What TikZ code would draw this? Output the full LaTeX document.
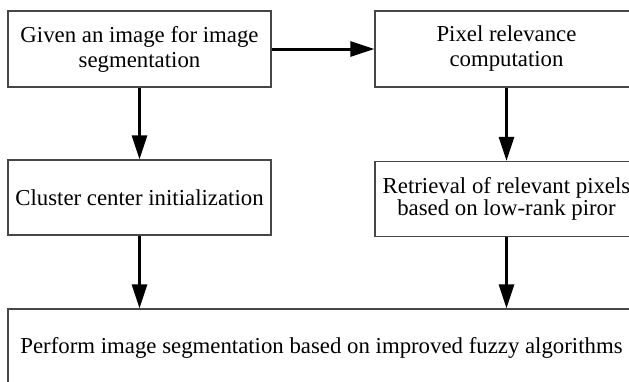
\documentclass[tikz,border=0pt]{standalone}
\usepackage{fontspec}
\setmainfont{Liberation Serif}
\usetikzlibrary{arrows.meta}

\begin{document}
\begin{tikzpicture}[x=1pt, y=-1pt, font=\rmfamily\fontsize{22.8}{25}\selectfont,
          bx/.style={draw=black!72, line width=1.2pt, minimum width=263pt, minimum height=76pt, inner sep=0pt, align=center},
          ar/.style={-{Triangle[length=24pt, width=15pt]}, line width=3pt}]
        \clip (0,0) rectangle (629,381);
        \node[bx] (given) at (139.5, 49) {Given an image for image\\segmentation};
        \node[bx] (relev) at (506.5, 49) {Pixel relevance\\computation};
        \node[bx, minimum height=75pt] (clust) at (139.5, 197.5) {Cluster center initialization};
        \node[bx, minimum height=75pt, font=\rmfamily\fontsize{22.8}{22}\selectfont] (retr) at (506.5, 199) {Retrieval of relevant pixels\\based on low-rank piror};
        \node[bx, minimum width=627pt, minimum height=78pt] (seg) at (321.5, 348) {Perform image segmentation based on improved fuzzy algorithms};
        \draw[ar] (given) -- (relev);
        \draw[ar] (given) -- (clust); \draw[ar] (relev) -- (retr);
        \draw[ar] (clust.south) -- (clust.south |- seg.north);
        \draw[ar] (retr.south) -- (retr.south |- seg.north);
      \end{tikzpicture}
\end{document}
